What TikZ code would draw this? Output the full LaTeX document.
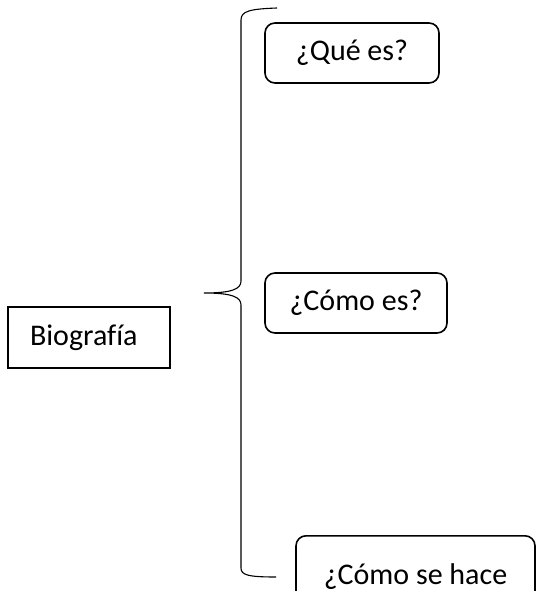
\documentclass[tikz,border=0pt]{standalone}
\usepackage{fontspec}
\setmainfont{Carlito}[Ligatures=NoCommon]
\usetikzlibrary{positioning}
\tikzset{question/.style = {draw, rounded corners=10pt, line width=1.6pt,
                            minimum height=60pt, inner sep=0pt,
                            font=\fontsize{30}{36}\selectfont}}
\tikzset{topic/.style = {draw, line width=1.4pt, minimum height=61pt,
                         text width=118pt, align=left, inner xsep=22pt,
                         inner ysep=0pt, font=\fontsize{30}{36}\selectfont}}
\tikzset{brace/.style = {line width=1.1pt}}

\begin{document}
\begin{tikzpicture}[x=1pt, y=-1pt]
      \clip (0,0) rectangle (536,591);
      \node[topic] (bio) at (89,337.5) {Biografía};
      \node[question, minimum width=174pt] (que) at (352,53) {¿Qué es?};
      \node[question, minimum width=182pt] (como) at (356,303) {¿Cómo es?};
      \node[question, minimum width=239pt, minimum height=82pt,
        anchor=north] (hace) at (415.5,535) {¿Cómo se hace};
      \coordinate (tip) at (204,293);
      \coordinate (btop) at (277,8);
      \coordinate (bbot) at (276,577);
      \draw[brace] (btop) .. controls (250,9) and (241,11) .. (241,20)
        -- (241,281) .. controls (241,289) and (232,293) .. (tip)
        .. controls (232,293) and (241,297) .. (241,305)
        -- (241,568) .. controls (241,575) and (248,577) .. (bbot);
    \end{tikzpicture}
\end{document}
